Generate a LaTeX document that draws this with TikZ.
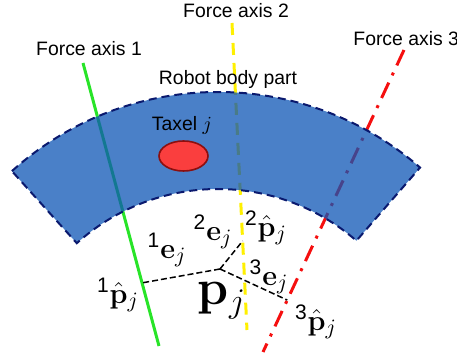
\documentclass[tikz,border=0pt]{standalone}
\usepackage{amsmath,amssymb}
\usepackage[no-math]{fontspec}
\setmainfont{Liberation Sans}
\usetikzlibrary{positioning,calc,shapes.geometric}
\definecolor{bandblue}{RGB}{13,85,181}
\definecolor{bandline}{RGB}{10,25,110}
\definecolor{axisgreen}{RGB}{40,228,40}
\definecolor{axisyellow}{RGB}{255,240,0}
\definecolor{axisred}{RGB}{245,15,15}
\definecolor{taxelred}{RGB}{250,62,62}
\definecolor{taxelline}{RGB}{140,15,15}

\begin{document}
\begin{tikzpicture}[
  x=0.5pt,y=0.5pt,
  band/.style={fill=bandblue,fill opacity=0.75,draw=bandline,line width=1pt,
               dash pattern=on 4pt off 2.5pt},
  taxel/.style={ellipse,draw=taxelline,fill=taxelred,line width=0.8pt,
                minimum width=24.5pt,minimum height=15pt,inner sep=0pt},
  axisone/.style={axisgreen,line width=1.5pt},
  axistwo/.style={axisyellow,line width=1.5pt,dash pattern=on 6pt off 4pt},
  axisthree/.style={axisred,line width=1.5pt,dash pattern=on 8.5pt off 4pt on 1.5pt off 4pt},
  proj/.style={black,line width=0.75pt,dash pattern=on 3pt off 1.5pt},
  lbl/.style={font=\fontsize{9.7}{11}\selectfont,inner sep=0pt},
  vec/.style={font=\fontsize{15}{17}\selectfont,inner sep=0pt},
  bigvec/.style={font=\fontsize{23}{26}\selectfont,inner sep=0pt}
]
  \useasboundingbox (0,0) rectangle (457,358);

  % force axes
  \coordinate (g1) at (83,295);  \coordinate (g2) at (159,12);
  \coordinate (y1) at (232,335); \coordinate (y2) at (247,28);
  \coordinate (r1) at (404,308); \coordinate (r2) at (263,6);
  \draw[axisone] (g1) -- (g2);
  \draw[axistwo] (y1) -- (y2);
  \draw[axisthree] (r1) -- (r2);

  % robot body part
  \coordinate (ctr) at (218,-42);
  \path[band] ([shift={(132:154pt)}]ctr) arc[start angle=132,end angle=49,radius=154pt]
    -- ([shift={(49:105.5pt)}]ctr) arc[start angle=49,end angle=132,radius=105.5pt] -- cycle;
  \node[taxel] (tax) at (183.5,202) {};

  \node[lbl] (fa1) at (89,309) {Force axis 1};
  \node[lbl] (fa2) at (236,347) {Force axis 2};
  \node[lbl,anchor=west] (fa3) at (353,319) {Force axis 3};
  \node[lbl] (body) at (228,279) {Robot body part};
  \node[lbl] (taxlbl) at (182,233) {Taxel $j$};

  % projections of p_j on the axes
  \coordinate (pj) at (220,89);
  \coordinate (p1) at ($(g1)!0.777!(g2)$);
  \coordinate (p2) at ($(y1)!0.71!(y2)$);
  \coordinate (p3) at ($(r1)!0.828!(r2)$);
  \draw[proj] (pj) -- (p1);
  \draw[proj] (pj) -- (p2);
  \draw[proj] (pj) -- (p3);

  \node[bigvec] (pjlbl) at (222,57) {$\mathbf{p}_j$};
  \node[vec] (e1) at (167,108) {$^{\text{1}}\mathbf{e}_j$};
  \node[vec] (e2) at (213,126) {$^{\text{2}}\mathbf{e}_j$};
  \node[vec] (e3) at (269,81) {$^{\text{3}}\mathbf{e}_j$};
  \node[vec] (ph1) at (118,63) {$^{\text{1}}\hat{\mathbf{p}}_j$};
  \node[vec] (ph2) at (266,130) {$^{\text{2}}\hat{\mathbf{p}}_j$};
  \node[vec] (ph3) at (316,36) {$^{\text{3}}\hat{\mathbf{p}}_j$};
\end{tikzpicture}
\end{document}
